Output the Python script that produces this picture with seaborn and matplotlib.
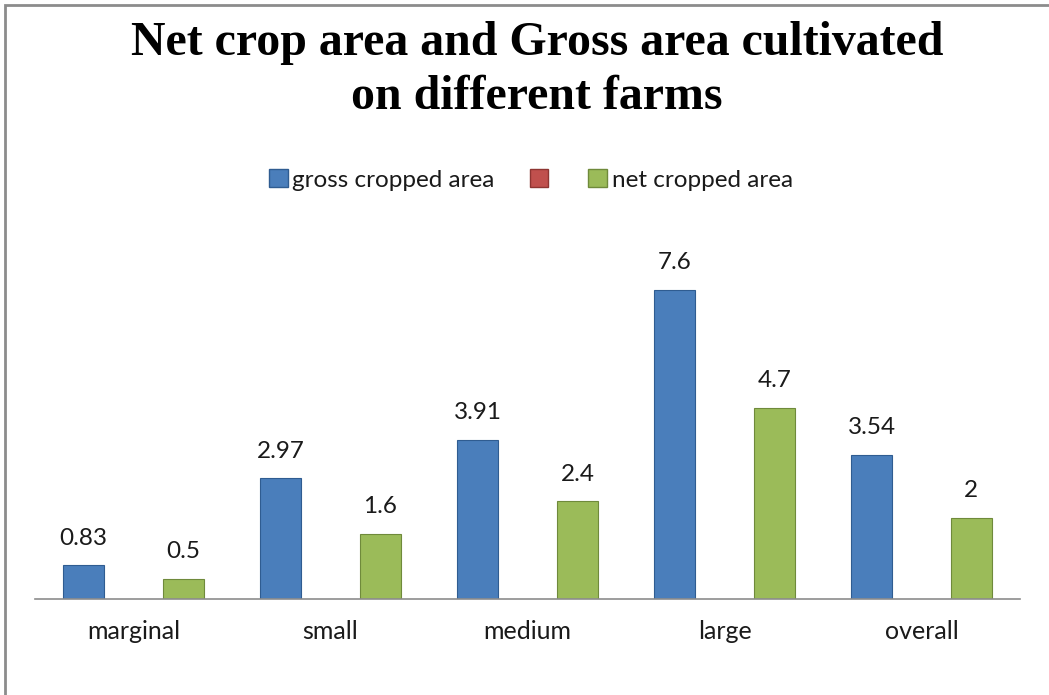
import numpy as np
import pandas as pd
import matplotlib
matplotlib.use("Agg")
import matplotlib.pyplot as plt
import matplotlib.patches as patches
import seaborn as sns

# data
farms = ['marginal', 'small', 'medium', 'large', 'overall']
gross_area = [0.83, 2.97, 3.91, 7.6, 3.54]
net_area = [0.5, 1.6, 2.4, 4.7, 2]
series = ['gross cropped area', '', 'net cropped area']

df = pd.DataFrame({
    'farm': farms * 2,
    'value': gross_area + net_area,
    'series': [series[0]] * len(farms) + [series[2]] * len(farms),
})

colors = {series[0]: '#4A7EBB', series[1]: '#C0504D', series[2]: '#9BBB59'}
edges = {series[0]: '#2F5C91', series[1]: '#8E3532', series[2]: '#6F8A3B'}

sns.set_style('white')
plt.rcParams['font.family'] = ['Lato', 'DejaVu Sans']

fig = plt.figure(figsize=(10.49, 6.95), dpi=100)
ax = fig.add_axes([35 / 1049, (695 - 599) / 695, (1020 - 35) / 1049, (599 - 233) / 695])

sns.barplot(data=df, x='farm', y='value', hue='series', hue_order=series,
            palette=colors, order=farms, width=0.76, gap=0.18, ax=ax,
            legend=False, errorbar=None, saturation=1)

edge_by_face = {matplotlib.colors.to_hex(c): edges[s] for s, c in colors.items()}
for cont in ax.containers:
    if len(cont) == 0:
        continue
    for bar in cont:
        bar.set_edgecolor(edge_by_face.get(matplotlib.colors.to_hex(bar.get_facecolor()), '#444444'))
        bar.set_linewidth(0.8)
    ax.bar_label(cont, labels=[f'{v:g}' for v in cont.datavalues],
                 padding=12, fontsize=17.5, color='#1a1a1a')

ax.set_ylim(0, 9)
ax.set_xlim(-0.5, 4.5)
ax.set_xlabel('')
ax.set_ylabel('')
ax.set_yticks([])
for side in ['left', 'right', 'top']:
    ax.spines[side].set_visible(False)
ax.spines['bottom'].set_color('#8c8c8c')
ax.spines['bottom'].set_linewidth(1.2)
ax.tick_params(axis='x', length=0, pad=15, labelsize=18, labelcolor='#1a1a1a')

handles = [patches.Patch(facecolor=colors[s], edgecolor=edges[s]) for s in series]
fig.legend(handles, series, loc='center', bbox_to_anchor=(531 / 1049, 1 - 180 / 695),
           ncol=3, frameon=False, fontsize=17.5, handlelength=0.75, handleheight=0.75,
           handletextpad=0.2, columnspacing=1.45, labelcolor='#1a1a1a')

fig.text(537 / 1049, 1 - 70 / 695, 'Net crop area and Gross area cultivated\non different farms',
         ha='center', va='center', fontsize=34.5, fontweight='bold', color='black',
         family='Liberation Serif', linespacing=1.3)

# chart border (only top and left visible in the crop)
fig.patches.append(patches.Rectangle((5 / 1049, -0.1), 1.2, 1 - 5 / 695 + 0.1,
                                     transform=fig.transFigure, fill=False,
                                     edgecolor='#8c8c8c', linewidth=2))

fig.savefig('out.png', dpi=100)
